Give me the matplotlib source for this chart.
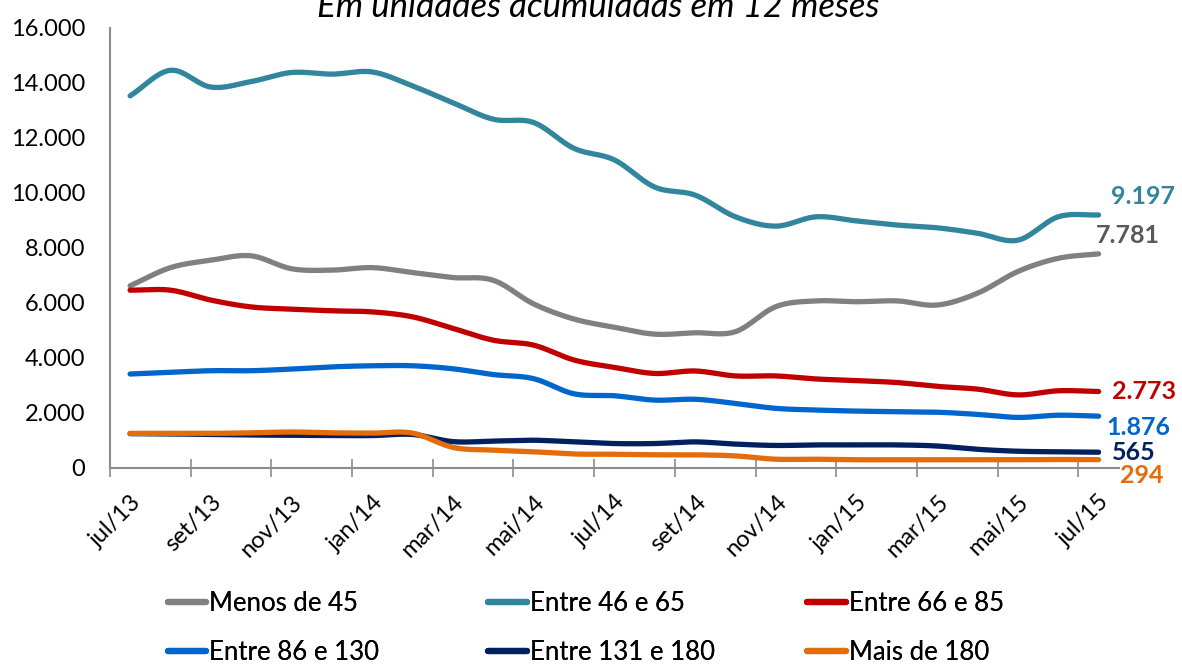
import numpy as np
import matplotlib
matplotlib.use("Agg")
import matplotlib.pyplot as plt
from matplotlib.lines import Line2D

plt.rcParams['font.family'] = ['Lato', 'DejaVu Sans']

months = ["jul/13", "ago/13", "set/13", "out/13", "nov/13", "dez/13",
          "jan/14", "fev/14", "mar/14", "abr/14", "mai/14", "jun/14",
          "jul/14", "ago/14", "set/14", "out/14", "nov/14", "dez/14",
          "jan/15", "fev/15", "mar/15", "abr/15", "mai/15", "jun/15", "jul/15"]

series_names = ["Menos de 45", "Entre 46 e 65", "Entre 66 e 85",
                "Entre 86 e 130", "Entre 131 e 180", "Mais de 180"]

menos_45 = [6620, 7280, 7550, 7710, 7240, 7190, 7280, 7100, 6920, 6820, 5960, 5410,
            5110, 4860, 4910, 4950, 5860, 6070, 6040, 6070, 5920, 6350, 7140, 7620, 7781]
entre_46_65 = [13530, 14460, 13850, 14050, 14380, 14320, 14400, 13890, 13280, 12680, 12560, 11620,
               11200, 10210, 9920, 9130, 8790, 9130, 8980, 8830, 8730, 8530, 8280, 9130, 9197]
entre_66_85 = [6460, 6460, 6100, 5850, 5770, 5710, 5670, 5490, 5070, 4640, 4460, 3920,
               3650, 3430, 3520, 3340, 3340, 3230, 3170, 3100, 2960, 2860, 2650, 2800, 2773]
entre_86_130 = [3410, 3470, 3530, 3530, 3590, 3670, 3710, 3710, 3600, 3390, 3240, 2690,
                2620, 2460, 2490, 2340, 2160, 2100, 2060, 2040, 2020, 1940, 1830, 1910, 1876]
entre_131_180 = [1240, 1230, 1210, 1190, 1180, 1170, 1170, 1210, 950, 970, 1000, 940,
                 880, 880, 940, 860, 810, 830, 830, 830, 790, 670, 600, 580, 565]
mais_180 = [1250, 1250, 1250, 1270, 1300, 1270, 1260, 1260, 740, 640, 580, 500,
            490, 470, 470, 430, 310, 310, 290, 290, 290, 290, 290, 300, 294]

all_series = [menos_45, entre_46_65, entre_66_85, entre_86_130, entre_131_180, mais_180]
colors = ["#808080", "#31859C", "#C00000", "#0066CC", "#002060", "#E46C0A"]
label_colors = ["#595959", "#31859C", "#C00000", "#0066CC", "#002060", "#E46C0A"]
label_offsets = [(-3, 18), (12, 18), (13, 0), (8, -11), (13, 0), (21, -16)]


def smooth(x, y, n=20):
    x = np.asarray(x, float)
    y = np.asarray(y, float)
    px = np.concatenate([[2 * x[0] - x[1]], x, [2 * x[-1] - x[-2]]])
    py = np.concatenate([[2 * y[0] - y[1]], y, [2 * y[-1] - y[-2]]])
    xs, ys = [], []
    t = np.linspace(0, 1, n, endpoint=False)
    for i in range(1, len(px) - 2):
        p0, p1, p2, p3 = py[i - 1], py[i], py[i + 1], py[i + 2]
        q0, q1, q2, q3 = px[i - 1], px[i], px[i + 1], px[i + 2]
        f = lambda a0, a1, a2, a3: 0.5 * ((2 * a1) + (-a0 + a2) * t +
                                          (2 * a0 - 5 * a1 + 4 * a2 - a3) * t ** 2 +
                                          (-a0 + 3 * a1 - 3 * a2 + a3) * t ** 3)
        xs.append(f(q0, q1, q2, q3))
        ys.append(f(p0, p1, p2, p3))
    xs.append([x[-1]])
    ys.append([y[-1]])
    return np.concatenate(xs), np.concatenate(ys)


fig = plt.figure(figsize=(11.82, 6.66), dpi=100)
ax = fig.add_axes([0.093, 0.2977, 0.8535, 0.6603])

x = np.arange(len(months))
handles = []
for vals, c, name in zip(all_series, colors, series_names):
    sx, sy = smooth(x, vals)
    ax.plot(sx, sy, color=c, lw=3.8, solid_capstyle='round', solid_joinstyle='round')
    handles.append(Line2D([0], [0], color=c, lw=4.5, solid_capstyle='round', label=name))

for vals, c, off in zip(all_series, label_colors, label_offsets):
    v = vals[-1]
    txt = f"{v:,}".replace(",", ".")
    ax.annotate(txt, xy=(x[-1], v), xytext=off, textcoords='offset pixels',
                ha='left', va='center', fontsize=18, fontweight='bold', color=c,
                annotation_clip=False)

ax.set_xlim(-0.5, len(months) - 0.5)
ax.set_ylim(0, 16000)
ax.set_yticks(np.arange(0, 16001, 2000))
ax.set_yticklabels([f"{int(v):,}".replace(",", ".") for v in np.arange(0, 16001, 2000)])
ax.tick_params(axis='y', length=0, pad=18, labelsize=17, labelcolor='#000000')

ax.set_xticks(x[::2])
ax.set_xticklabels(months[::2], rotation=45, ha='right', rotation_mode='anchor')
ax.tick_params(axis='x', which='major', length=0, pad=17, labelsize=17)
ax.set_xticks(np.arange(-0.5, len(months) - 1, 2), minor=True)
ax.tick_params(axis='x', which='minor', length=13, width=1.2, direction='inout', color='#8c8c8c')

for s in ['top', 'right']:
    ax.spines[s].set_visible(False)
for s in ['left', 'bottom']:
    ax.spines[s].set_color('#8c8c8c')
    ax.spines[s].set_linewidth(1.5)

fig.text(0.506, 0.9745, "Em unidades acumuladas em 12 meses", ha='center', va='baseline',
         fontsize=25, style='italic')

col_x = [0.142, 0.413, 0.683]
for j in range(3):
    leg = fig.legend(handles=[handles[j], handles[j + 3]], loc='upper left',
                     bbox_to_anchor=(col_x[j], 0.112), bbox_transform=fig.transFigure,
                     frameon=False, handlelength=1.5, handletextpad=0.12, fontsize=18.5,
                     labelspacing=0.92, borderaxespad=0, borderpad=0)
    fig.add_artist(leg)

fig.savefig("out.png", dpi=100)
